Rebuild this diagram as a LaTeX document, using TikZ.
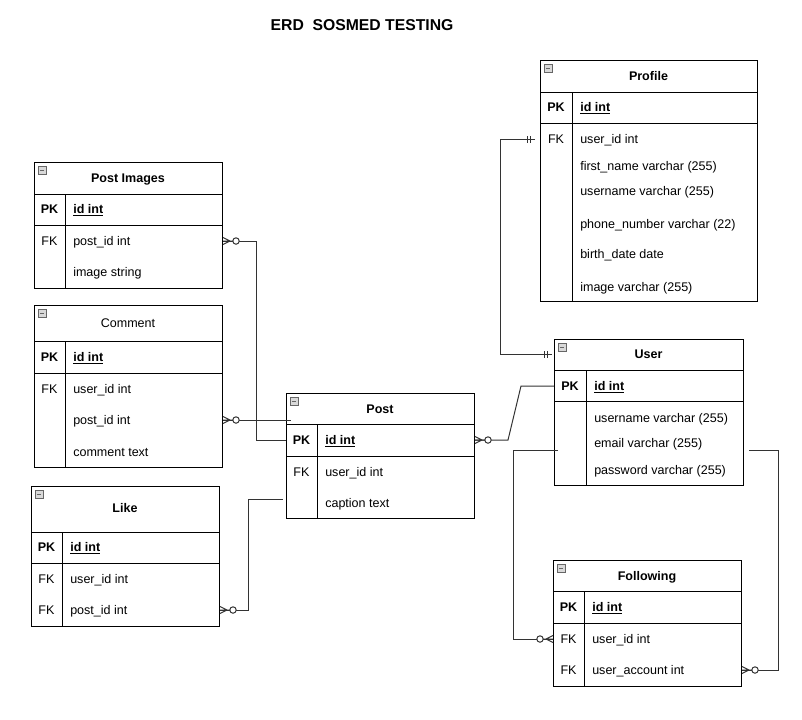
\documentclass[tikz,border=0pt]{standalone}
\usepackage{fontspec}
\setmainfont{Liberation Sans}

\begin{document}
\begin{tikzpicture}[
    x=0.75pt, y=-0.75pt,
    font=\fontsize{9.4}{11}\selectfont,
    txt/.style={inner sep=0pt, text height=6.7pt, text depth=0.5pt},
    tbl/.style={draw, line width=0.75pt, inner sep=0pt, anchor=north west},
    grid/.style={line width=0.75pt},
    title/.style={txt, font=\fontsize{9.4}{11}\selectfont\bfseries},
    ntitle/.style={txt, font=\fontsize{9.4}{11}\selectfont},
    key/.style={txt},
    pkey/.style={txt, font=\fontsize{9.4}{11}\selectfont\bfseries},
    field/.style={txt, anchor=west},
    pfield/.style={txt, anchor=west, font=\fontsize{9.4}{11}\selectfont\bfseries},
    icon/.style={draw=black!60, fill=black!15, minimum size=6pt, inner sep=0pt, line width=0.4pt,
        path picture={\draw[line width=0.6pt] ([xshift=1.4pt]path picture bounding box.west) -- ([xshift=-1.4pt]path picture bounding box.east);}},
    rel/.style={draw, line width=0.75pt, color=black!80},
    zmany/.pic={
        \draw[line width=0.75pt, black!80] (0,-3.5) -- (7,0) -- (0,3.5) (0,0) -- (10,0);
        \draw[line width=0.75pt, black!80, fill=white] (13,0) circle (2.4pt);
    },
    mone/.pic={
        \draw[line width=0.75pt, black!80] (5,-3.5) -- (5,3.5) (8,-3.5) -- (8,3.5);
    }
]
\useasboundingbox (0,0) rectangle (802,719);

% Title
\node[txt, font=\fontsize{11.8}{13}\selectfont\bfseries, text height=8.4pt] (erd) at (362,25) {ERD \ SOSMED TESTING};

% Post Images
\node[tbl, minimum width=141pt, minimum height=94.5pt] (pimg) at (34,162) {};
\draw[grid] (34,194) -- (222,194) (34,225) -- (222,225) (65,194) -- (65,288);
\node[icon] (pimg-i) at (42,170) {};
\node[title] (pimg-t) at (128,178) {Post Images};
\node[pkey] (pimg-k0) at (49.5,209) {PK};
\node[pfield] (pimg-r0) at (73,209) {\underline{id int}};
\node[key] (pimg-k1) at (49.5,241) {FK};
\node[field] (pimg-r1) at (73,241) {post\_id int};
\node[field] (pimg-r2) at (73,272) {image string};

% Comment
\node[tbl, minimum width=141pt, minimum height=121.5pt] (cmt) at (34,305) {};
\draw[grid] (34,341) -- (222,341) (34,373) -- (222,373) (65,341) -- (65,467);
\node[icon] (cmt-i) at (42,313) {};
\node[ntitle] (cmt-t) at (128,323) {Comment};
\node[pkey] (cmt-k0) at (49.5,357) {PK};
\node[pfield] (cmt-r0) at (73,357) {\underline{id int}};
\node[key] (cmt-k1) at (49.5,389) {FK};
\node[field] (cmt-r1) at (73,389) {user\_id int};
\node[field] (cmt-r2) at (73,420) {post\_id int};
\node[field] (cmt-r3) at (73,452) {comment text};

% Like
\node[tbl, minimum width=141pt, minimum height=105pt] (like) at (31,486) {};
\draw[grid] (31,532) -- (219,532) (31,563) -- (219,563) (62,532) -- (62,626);
\node[icon] (like-i) at (39,494) {};
\node[title] (like-t) at (125,508) {Like};
\node[pkey] (like-k0) at (46.5,547) {PK};
\node[pfield] (like-r0) at (70,547) {\underline{id int}};
\node[key] (like-k1) at (46.5,579) {FK};
\node[field] (like-r1) at (70,579) {user\_id int};
\node[key] (like-k2) at (46.5,610) {FK};
\node[field] (like-r2) at (70,610) {post\_id int};

% Post
\node[tbl, minimum width=141pt, minimum height=93.75pt] (post) at (286,393) {};
\draw[grid] (286,424) -- (474,424) (286,456) -- (474,456) (317,424) -- (317,518);
\node[icon] (post-i) at (294,401) {};
\node[title] (post-t) at (380,409) {Post};
\node[pkey] (post-k0) at (301.5,440) {PK};
\node[pfield] (post-r0) at (325,440) {\underline{id int}};
\node[key] (post-k1) at (301.5,472) {FK};
\node[field] (post-r1) at (325,472) {user\_id int};
\node[field] (post-r2) at (325,503) {caption text};

% Profile
\node[tbl, minimum width=162.75pt, minimum height=180.75pt] (prof) at (540,60) {};
\draw[grid] (540,92) -- (757,92) (540,123) -- (757,123) (572,92) -- (572,301);
\node[icon] (prof-i) at (548,68) {};
\node[title] (prof-t) at (648.5,76) {Profile};
\node[pkey] (prof-k0) at (556,107) {PK};
\node[pfield] (prof-r0) at (580,107) {\underline{id int}};
\node[key] (prof-k1) at (556,139) {FK};
\node[field] (prof-r1) at (580,139) {user\_id int};
\node[field] (prof-r2) at (580,166) {first\_name varchar (255)};
\node[field] (prof-r3) at (580,191) {username varchar (255)};
\node[field] (prof-r4) at (580,224) {phone\_number varchar (22)};
\node[field] (prof-r5) at (580,254) {birth\_date date};
\node[field] (prof-r6) at (580,287) {image varchar (255)};

% User
\node[tbl, minimum width=141.75pt, minimum height=109.5pt] (user) at (554,339) {};
\draw[grid] (554,370) -- (743,370) (554,401) -- (743,401) (586,370) -- (586,485);
\node[icon] (user-i) at (562,347) {};
\node[title] (user-t) at (648.5,354) {User};
\node[pkey] (user-k0) at (570,386) {PK};
\node[pfield] (user-r0) at (594,386) {\underline{id int}};
\node[field] (user-r1) at (594,418) {username varchar (255)};
\node[field] (user-r2) at (594,443) {email varchar (255)};
\node[field] (user-r3) at (594,470) {password varchar (255)};

% Following
\node[tbl, minimum width=141pt, minimum height=94.5pt] (fol) at (553,560) {};
\draw[grid] (553,591) -- (741,591) (553,623) -- (741,623) (584,591) -- (584,686);
\node[icon] (fol-i) at (561,568) {};
\node[title] (fol-t) at (647,576) {Following};
\node[pkey] (fol-k0) at (568.5,607) {PK};
\node[pfield] (fol-r0) at (592,607) {\underline{id int}};
\node[key] (fol-k1) at (568.5,639) {FK};
\node[field] (fol-r1) at (592,639) {user\_id int};
\node[key] (fol-k2) at (568.5,670) {FK};
\node[field] (fol-r2) at (592,670) {user\_account int};

% Relations
\coordinate (user-l) at (558,450);
\coordinate (user-r) at (749,450);
\draw[rel] (pimg.east |- pimg-r1) -- ++(33,0) |- (post.west |- post-r0);
\draw[rel] (cmt.east |- cmt-r2) -- ([xshift=3.75pt]post.west |- cmt-r2);
\draw[rel] (like.east |- like-r2) -- ++(28,0) |- ([xshift=-2.25pt,yshift=3pt]post.west |- post-r2);
\draw[rel] (user.west |- user-r0) -- ++(-33,0) -- ++(-13,54) -- (post.east |- post-r0);
\draw[rel] ([xshift=-3.75pt]prof.west |- prof-r1) -- ++(-35,0) |- ([xshift=-1.5pt]user.west |- user-t);
\draw[rel] (user-l) -- ++(-45,0) |- (fol.west |- fol-r1);
\draw[rel] (user-r) -- ++(29,0) |- (fol.east |- fol-r2);

% Crow's feet
\pic at (pimg.east |- pimg-r1) {zmany};
\pic at (cmt.east |- cmt-r2) {zmany};
\pic at (like.east |- like-r2) {zmany};
\pic at (post.east |- post-r0) {zmany};
\pic[rotate=180] at (fol.west |- fol-r1) {zmany};
\pic at (fol.east |- fol-r2) {zmany};
\pic[rotate=180] at ([xshift=-3.75pt]prof.west |- prof-r1) {mone};
\pic[rotate=180] at ([xshift=-1.5pt]user.west |- user-t) {mone};

\end{tikzpicture}
\end{document}
